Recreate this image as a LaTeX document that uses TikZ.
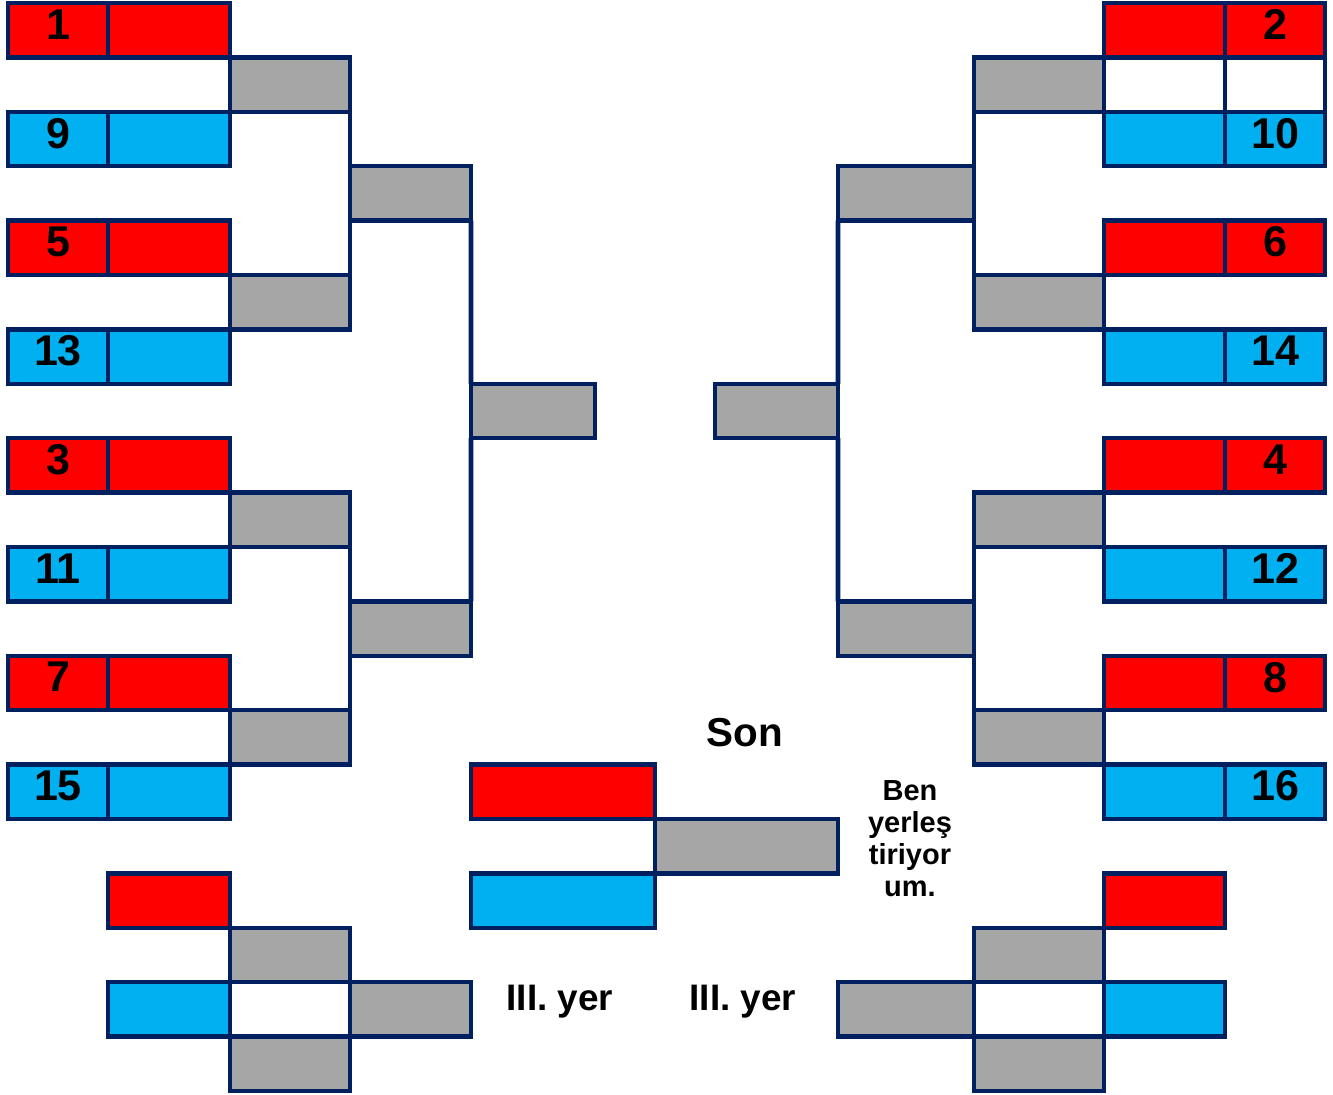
\documentclass[tikz,border=0pt]{standalone}
\usepackage{fontspec}
\setmainfont{Liberation Sans}
\definecolor{bnavy}{HTML}{002060}
\definecolor{bred}{HTML}{FF0000}
\definecolor{bblue}{HTML}{00B0F0}
\definecolor{bgray}{HTML}{A6A6A6}
\tikzset{
  cellbox/.style={draw=bnavy, line width=2.6pt, anchor=north west, inner sep=0pt,
    outer sep=0pt, minimum height=1.088cm, text depth=0.24cm,
    font=\bfseries\fontsize{24.5}{24.5}\selectfont},
  redbox/.style={cellbox, fill=bred},
  bluebox/.style={cellbox, fill=bblue},
  graybox/.style={cellbox, fill=bgray},
  whitebox/.style={cellbox, fill=white},
  link/.style={bnavy, line width=2.6pt},
}
% one spreadsheet cell: style, name, left x, right x, row, text
\newcommand{\bcell}[6]{\node[#1, minimum width={(#4-#3)*0.02cm}] (#2) at (#3,{3+54.4*#5}) {#6};}
\begin{document}
\begin{tikzpicture}[x=0.02cm,y=-0.02cm]
  \useasboundingbox (0,0) rectangle (1333,1095);
  % left half
  \bcell{redbox}{n1}{8}{108}{0}{1}     \bcell{redbox}{t1}{108}{230}{0}{}
  \bcell{bluebox}{n9}{8}{108}{2}{9}    \bcell{bluebox}{t9}{108}{230}{2}{}
  \bcell{redbox}{n5}{8}{108}{4}{5}     \bcell{redbox}{t5}{108}{230}{4}{}
  \bcell{bluebox}{n13}{8}{108}{6}{13}  \bcell{bluebox}{t13}{108}{230}{6}{}
  \bcell{redbox}{n3}{8}{108}{8}{3}     \bcell{redbox}{t3}{108}{230}{8}{}
  \bcell{bluebox}{n11}{8}{108}{10}{11} \bcell{bluebox}{t11}{108}{230}{10}{}
  \bcell{redbox}{n7}{8}{108}{12}{7}    \bcell{redbox}{t7}{108}{230}{12}{}
  \bcell{bluebox}{n15}{8}{108}{14}{15} \bcell{bluebox}{t15}{108}{230}{14}{}
  \bcell{graybox}{la1}{230}{350}{1}{}
  \bcell{graybox}{la2}{230}{350}{5}{}
  \bcell{graybox}{la3}{230}{350}{9}{}
  \bcell{graybox}{la4}{230}{350}{13}{}
  \bcell{graybox}{lb1}{350}{471}{3}{}
  \bcell{graybox}{lb2}{350}{471}{11}{}
  \bcell{graybox}{lc}{471}{595}{7}{}
  \draw[link] (la1.south east) -- (lb1.north west);
  \draw[link] (lb1.south west) -- (la2.north east);
  \draw[link] (la3.south east) -- (lb2.north west);
  \draw[link] (lb2.south west) -- (la4.north east);
  \draw[link] (lb1.south east) -- (lc.north west);
  \draw[link] (lc.south west) -- (lb2.north east);
  % right half
  \bcell{redbox}{t2}{1104}{1225}{0}{}   \bcell{redbox}{n2}{1225}{1325}{0}{2}
  \bcell{whitebox}{e1}{1104}{1225}{1}{} \bcell{whitebox}{e2}{1225}{1325}{1}{}
  \bcell{bluebox}{t10}{1104}{1225}{2}{} \bcell{bluebox}{n10}{1225}{1325}{2}{10}
  \bcell{redbox}{t6}{1104}{1225}{4}{}   \bcell{redbox}{n6}{1225}{1325}{4}{6}
  \bcell{bluebox}{t14}{1104}{1225}{6}{} \bcell{bluebox}{n14}{1225}{1325}{6}{14}
  \bcell{redbox}{t4}{1104}{1225}{8}{}   \bcell{redbox}{n4}{1225}{1325}{8}{4}
  \bcell{bluebox}{t12}{1104}{1225}{10}{} \bcell{bluebox}{n12}{1225}{1325}{10}{12}
  \bcell{redbox}{t8}{1104}{1225}{12}{}  \bcell{redbox}{n8}{1225}{1325}{12}{8}
  \bcell{bluebox}{t16}{1104}{1225}{14}{} \bcell{bluebox}{n16}{1225}{1325}{14}{16}
  \bcell{graybox}{ra1}{974}{1104}{1}{}
  \bcell{graybox}{ra2}{974}{1104}{5}{}
  \bcell{graybox}{ra3}{974}{1104}{9}{}
  \bcell{graybox}{ra4}{974}{1104}{13}{}
  \bcell{graybox}{rb1}{838}{974}{3}{}
  \bcell{graybox}{rb2}{838}{974}{11}{}
  \bcell{graybox}{rc}{715}{838}{7}{}
  \draw[link] (ra1.south west) -- (rb1.north east);
  \draw[link] (rb1.south east) -- (ra2.north west);
  \draw[link] (ra3.south west) -- (rb2.north east);
  \draw[link] (rb2.south east) -- (ra4.north west);
  \draw[link] (rb1.south west) -- (rc.north east);
  \draw[link] (rc.south east) -- (rb2.north west);
  % final
  \node[font=\bfseries\fontsize{23}{23}\selectfont] (son) at (745,733) {Son};
  \bcell{redbox}{fr}{471}{655}{14}{}
  \bcell{graybox}{fw}{655}{838}{15}{}
  \bcell{bluebox}{fb}{471}{655}{16}{}
  \node[align=center, font=\bfseries\fontsize{16.5}{18.2}\selectfont] (note) at (910,839)
    {Ben\\yerleş\\tiriyor\\um.};
  % third place, left
  \bcell{redbox}{tlr}{108}{230}{16}{}
  \bcell{graybox}{tla}{230}{350}{17}{}
  \bcell{bluebox}{tlb}{108}{230}{18}{}
  \bcell{whitebox}{tlw}{230}{350}{18}{}
  \bcell{graybox}{tlc}{350}{471}{18}{}
  \bcell{graybox}{tld}{230}{350}{19}{}
  \node[font=\bfseries\fontsize{21}{21}\selectfont] (thl) at (560,1002) {III. yer};
  % third place, right
  \bcell{redbox}{trr}{1104}{1225}{16}{}
  \bcell{graybox}{tra}{974}{1104}{17}{}
  \bcell{graybox}{trc}{838}{974}{18}{}
  \bcell{whitebox}{trw}{974}{1104}{18}{}
  \bcell{bluebox}{trb}{1104}{1225}{18}{}
  \bcell{graybox}{trd}{974}{1104}{19}{}
  \node[font=\bfseries\fontsize{21}{21}\selectfont] (thr) at (743,1002) {III. yer};
\end{tikzpicture}
\end{document}
